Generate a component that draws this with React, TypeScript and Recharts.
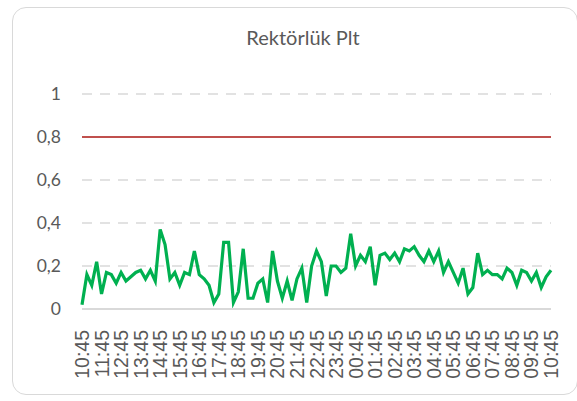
import { LineChart, Line, XAxis, YAxis, CartesianGrid, ReferenceLine } from "recharts";

const TITLE = "Rektörlük Plt";

const HOUR_LABELS = [
  "10:45", "11:45", "12:45", "13:45", "14:45", "15:45", "16:45", "17:45", "18:45",
  "19:45", "20:45", "21:45", "22:45", "23:45", "00:45", "01:45", "02:45", "03:45",
  "04:45", "05:45", "06:45", "07:45", "08:45", "09:45", "10:45",
];

// 15-minute readings, 10:45 -> 10:45 next day
const VALUES = [
  0.02, 0.16, 0.11, 0.22, 0.07, 0.17, 0.16, 0.12, 0.17, 0.13, 0.15, 0.17, 0.18, 0.14, 0.18, 0.13,
  0.37, 0.30, 0.14, 0.17, 0.11, 0.17, 0.16, 0.27, 0.16, 0.14, 0.11, 0.03, 0.07, 0.31, 0.31, 0.03,
  0.08, 0.28, 0.05, 0.05, 0.12, 0.14, 0.03, 0.27, 0.13, 0.05, 0.13, 0.04, 0.14, 0.19, 0.03, 0.20,
  0.27, 0.22, 0.06, 0.20, 0.20, 0.17, 0.19, 0.35, 0.20, 0.25, 0.22, 0.29, 0.11, 0.25, 0.26, 0.23,
  0.26, 0.22, 0.28, 0.27, 0.29, 0.25, 0.22, 0.27, 0.22, 0.27, 0.17, 0.22, 0.17, 0.12, 0.19, 0.07,
  0.10, 0.26, 0.16, 0.18, 0.16, 0.16, 0.14, 0.19, 0.17, 0.11, 0.18, 0.17, 0.13, 0.17, 0.10, 0.15,
  0.18,
];

const Y_TICKS = [0, 0.2, 0.4, 0.6, 0.8, 1];
const LIMIT = 0.8;

const data = VALUES.map((v, i) => ({ idx: i, value: v }));
const xTicks = HOUR_LABELS.map((_, i) => i * 4);

const FONT = "Lato, 'Open Sans', sans-serif";
const TEXT = "#595959";

function TimeTick(props: any) {
  const { x, y, payload } = props;
  const label = HOUR_LABELS[Math.round(payload.value / 4)];
  const ty = y + 13;
  return (
    <text
      x={x}
      y={ty}
      transform={`rotate(-90, ${x}, ${ty})`}
      textAnchor="end"
      dy="0.36em"
      fill={TEXT}
      fontSize={19.5}
      fontFamily="'Liberation Sans', Arial, sans-serif"
    >
      {label}
    </text>
  );
}

export default function App() {
  return (
    <div style={{ position: "absolute", left: 0, top: 0, width: 577, height: 401, background: "white" }}>
      <div
        style={{
          position: "absolute", left: 12, top: 7, width: 566, height: 388,
          border: "1.5px solid #d9d9d9", borderRadius: 14, boxSizing: "border-box",
        }}
      />
      <div
        style={{
          position: "absolute", left: 0, top: 25, width: 606, textAlign: "center",
          fontFamily: FONT, fontSize: 20, color: TEXT,
        }}
      >
        {TITLE}
      </div>
      <div style={{ position: "absolute", left: 0, top: 0 }}>
        <LineChart width={577} height={401} data={data} margin={{ top: 94, right: 26, left: 22, bottom: 12 }}>
          <CartesianGrid vertical={false} stroke="#d9d9d9" strokeWidth={1.5} strokeDasharray="10 8" />
          <XAxis
            dataKey="idx"
            type="number"
            domain={[0, VALUES.length - 1]}
            ticks={xTicks}
            interval={0}
            height={80}
            tick={<TimeTick />}
            tickLine={false}
            axisLine={{ stroke: "#d9d9d9", strokeWidth: 2 }}
          />
          <YAxis
            domain={[0, 1]}
            ticks={Y_TICKS}
            width={60}
            tickLine={false}
            axisLine={false}
            tickSize={0}
            tickMargin={21}
            tickFormatter={(v: number) => String(v).replace(".", ",")}
            tick={{ fill: TEXT, fontSize: 17.5, fontFamily: FONT }}
          />
          <ReferenceLine y={LIMIT} stroke="#c0504d" strokeWidth={2} />
          <Line
            type="linear"
            dataKey="value"
            stroke="#00b050"
            strokeWidth={3.2}
            dot={false}
            isAnimationActive={false}
          />
        </LineChart>
      </div>
    </div>
  );
}
